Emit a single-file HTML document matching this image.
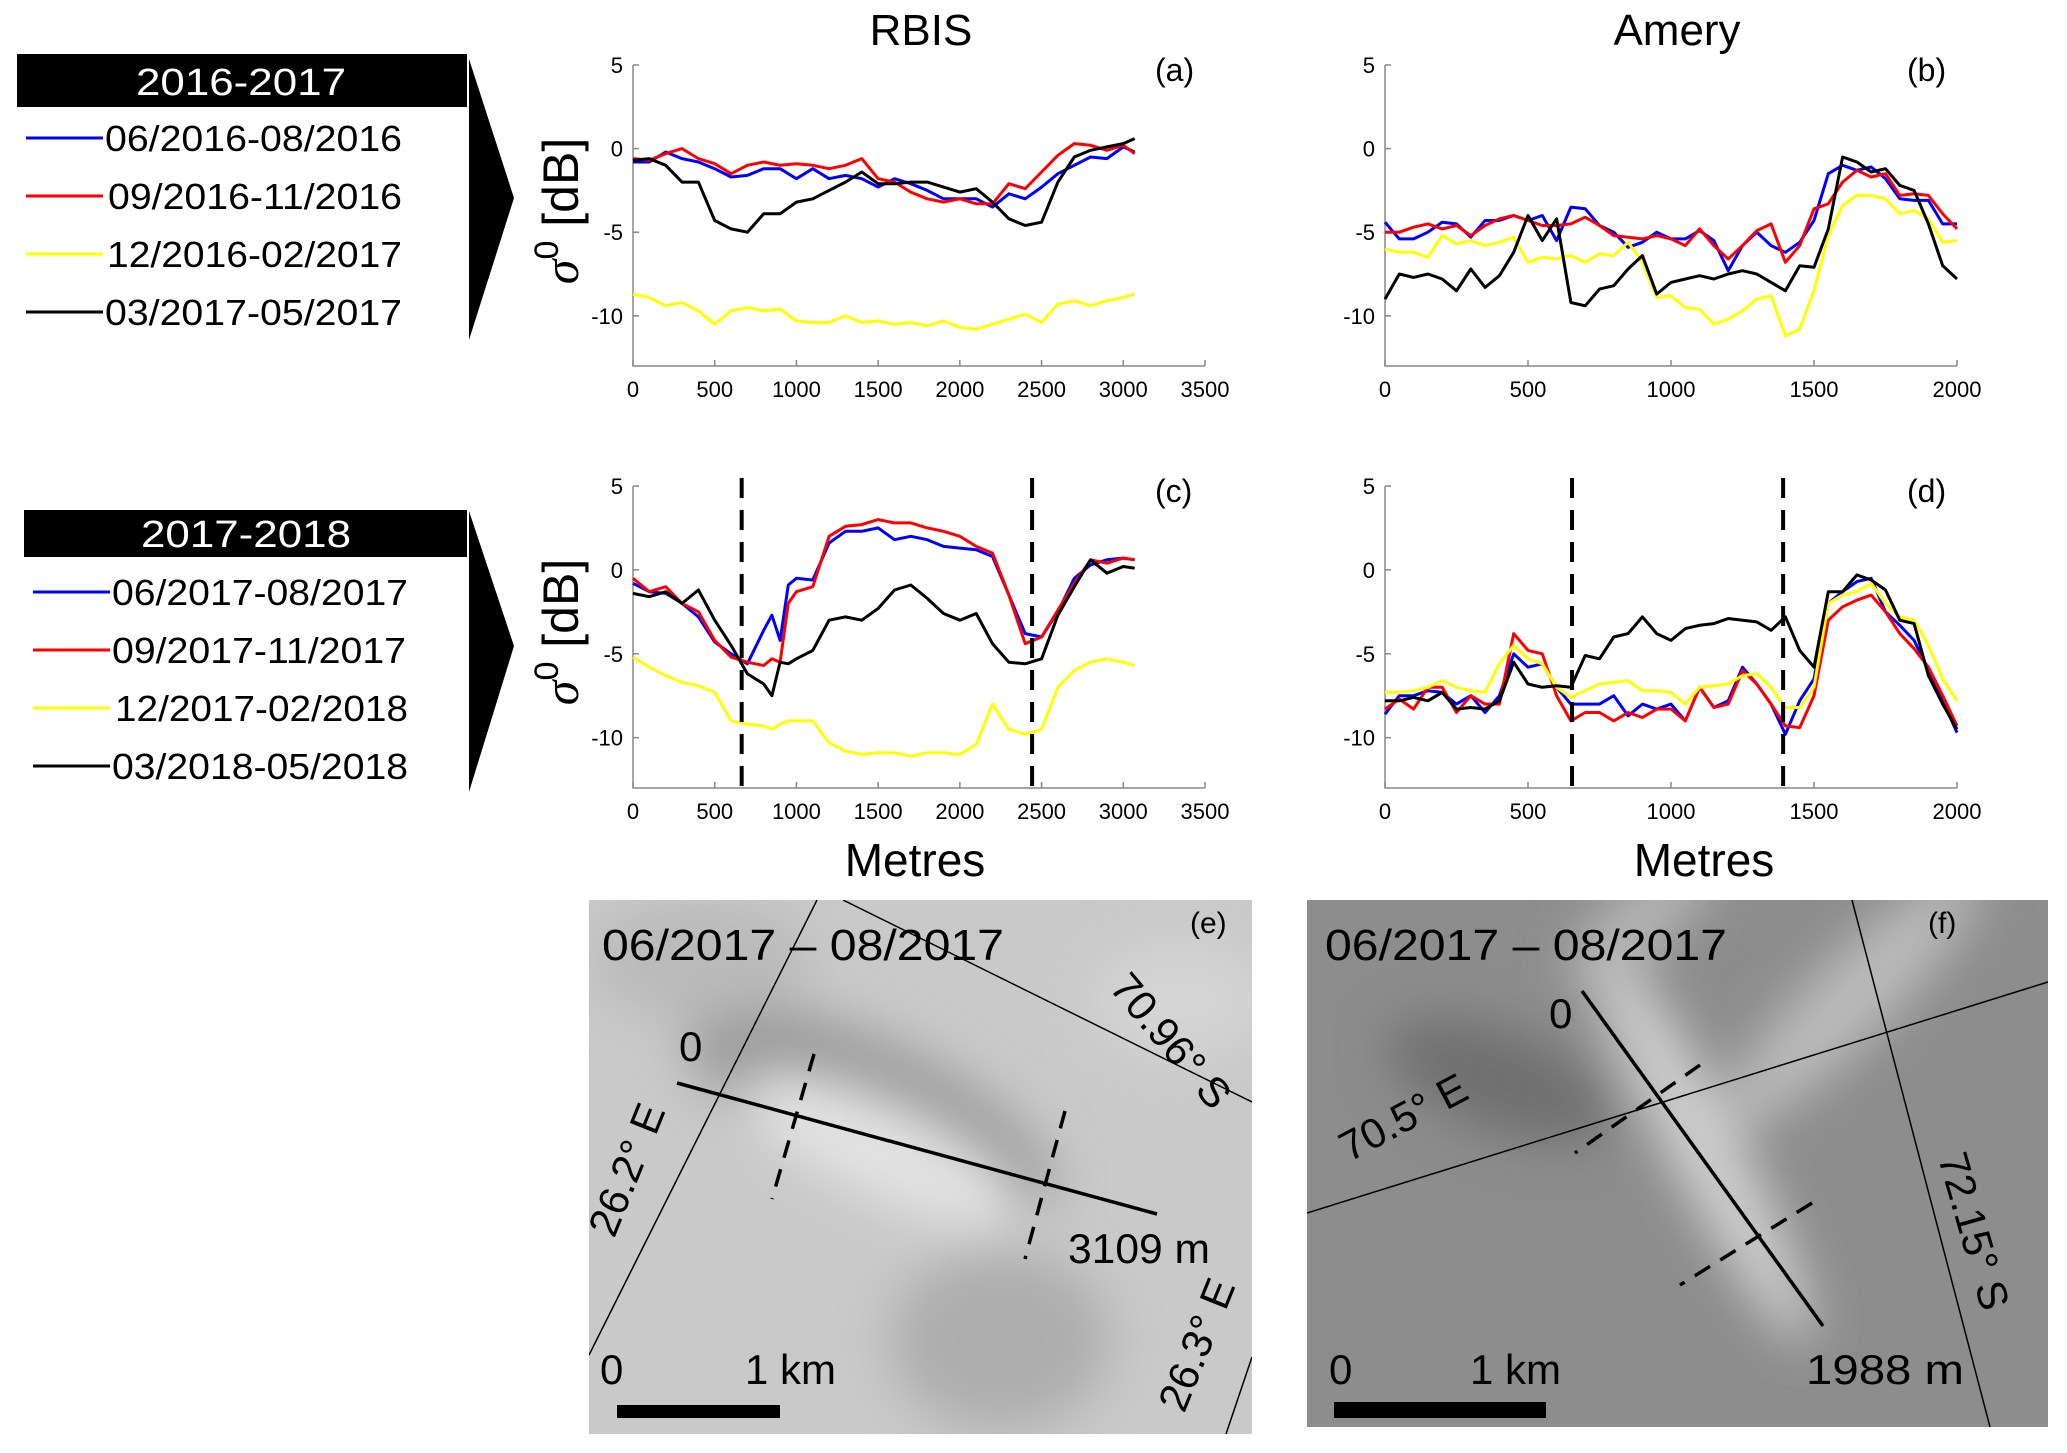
<!DOCTYPE html>
<html><head><meta charset="utf-8">
<style>
html,body{margin:0;padding:0;background:#fff;}
body{width:2067px;height:1448px;overflow:hidden;font-family:"Liberation Sans",Arial,sans-serif;}
svg text{font-family:"Liberation Sans",Arial,sans-serif;}
</style></head>
<body>
<svg id="fig" width="2067" height="1448" viewBox="0 0 2067 1448" xmlns="http://www.w3.org/2000/svg">
<defs>
<filter id="blur" x="-50%" y="-50%" width="200%" height="200%"><feGaussianBlur stdDeviation="25"/></filter>
<clipPath id="clipE"><rect x="589" y="900" width="663" height="534"/></clipPath>
<clipPath id="clipF"><rect x="1307" y="900" width="741" height="527"/></clipPath>
</defs>

<!-- Legends -->
<g>
<rect x="17" y="54" width="450" height="53" fill="#000"/>
<text x="136" y="95" fill="#fff" font-size="38" textLength="210" lengthAdjust="spacingAndGlyphs">2016-2017</text>
<polygon points="469,59 514,198 469,340" fill="#000"/>
<line x1="26" y1="138" x2="103" y2="138" stroke="#00f" stroke-width="3"/>
<text x="105" y="151" font-size="36" textLength="297" lengthAdjust="spacingAndGlyphs">06/2016-08/2016</text>
<line x1="26" y1="196" x2="103" y2="196" stroke="#f00" stroke-width="3"/>
<text x="108" y="209" font-size="36" textLength="294" lengthAdjust="spacingAndGlyphs">09/2016-11/2016</text>
<line x1="26" y1="254" x2="103" y2="254" stroke="#ff0" stroke-width="3"/>
<text x="107" y="267" font-size="36" textLength="295" lengthAdjust="spacingAndGlyphs">12/2016-02/2017</text>
<line x1="26" y1="312" x2="103" y2="312" stroke="#000" stroke-width="3"/>
<text x="105" y="325" font-size="36" textLength="297" lengthAdjust="spacingAndGlyphs">03/2017-05/2017</text>
</g>
<g>
<rect x="24" y="510" width="443" height="47" fill="#000"/>
<text x="141" y="547" fill="#fff" font-size="38" textLength="210" lengthAdjust="spacingAndGlyphs">2017-2018</text>
<polygon points="469,511 514,646 469,792" fill="#000"/>
<line x1="33" y1="592" x2="110" y2="592" stroke="#00f" stroke-width="3"/>
<text x="112" y="605" font-size="36" textLength="296" lengthAdjust="spacingAndGlyphs">06/2017-08/2017</text>
<line x1="33" y1="650" x2="110" y2="650" stroke="#f00" stroke-width="3"/>
<text x="112" y="663" font-size="36" textLength="294" lengthAdjust="spacingAndGlyphs">09/2017-11/2017</text>
<line x1="33" y1="708" x2="110" y2="708" stroke="#ff0" stroke-width="3"/>
<text x="115" y="721" font-size="36" textLength="293" lengthAdjust="spacingAndGlyphs">12/2017-02/2018</text>
<line x1="33" y1="766" x2="110" y2="766" stroke="#000" stroke-width="3"/>
<text x="112" y="779" font-size="36" textLength="296" lengthAdjust="spacingAndGlyphs">03/2018-05/2018</text>
</g>

<text x="921" y="45" font-size="44" text-anchor="middle">RBIS</text>
<text x="1677" y="45" font-size="44" text-anchor="middle">Amery</text>
<text x="915" y="876" font-size="46" text-anchor="middle">Metres</text>
<text x="1704" y="876" font-size="46" text-anchor="middle">Metres</text>
<text transform="translate(578,211) rotate(-90)" font-size="50" text-anchor="middle"><tspan font-style="italic" font-family="Liberation Serif">σ</tspan><tspan dy="-20" font-size="34">0</tspan><tspan dy="20"> [dB]</tspan></text>
<text transform="translate(578,632) rotate(-90)" font-size="50" text-anchor="middle"><tspan font-style="italic" font-family="Liberation Serif">σ</tspan><tspan dy="-20" font-size="34">0</tspan><tspan dy="20"> [dB]</tspan></text>

<g id="charts"></g>

<!-- Image (e) -->
<g clip-path="url(#clipE)">
<rect x="589" y="900" width="663" height="534" fill="#c9c9c9"/>
<g filter="url(#blur)">
<ellipse cx="870" cy="1110" rx="200" ry="70" fill="#9a9a9a" transform="rotate(25 870 1110)"/>
<ellipse cx="880" cy="1150" rx="150" ry="45" fill="#e3e3e3" transform="rotate(25 880 1150)"/>
<ellipse cx="1000" cy="1340" rx="110" ry="90" fill="#adadad"/>
<ellipse cx="700" cy="960" rx="110" ry="60" fill="#bababa"/>
<ellipse cx="1180" cy="1000" rx="90" ry="60" fill="#d4d4d4"/>
</g>
<line x1="817" y1="900" x2="589" y2="1355" stroke="#000" stroke-width="1.5"/>
<line x1="843" y1="900" x2="1252" y2="1102" stroke="#000" stroke-width="1.5"/>
<line x1="1252" y1="1357" x2="1226" y2="1434" stroke="#000" stroke-width="1.5"/>
<line x1="677" y1="1083" x2="1157" y2="1214" stroke="#000" stroke-width="3.5"/>
<line x1="814" y1="1054" x2="772" y2="1199" stroke="#000" stroke-width="3.5" stroke-dasharray="18,12"/>
<line x1="1065" y1="1111" x2="1025" y2="1259" stroke="#000" stroke-width="3.5" stroke-dasharray="18,12"/>
<text x="602" y="960" font-size="44" textLength="402" lengthAdjust="spacingAndGlyphs">06/2017 – 08/2017</text>
<text x="1190" y="933" font-size="30">(e)</text>
<text x="679" y="1061" font-size="42">0</text>
<text x="1068" y="1263" font-size="42" textLength="142" lengthAdjust="spacingAndGlyphs">3109 m</text>
<text x="600" y="1384" font-size="42">0</text>
<text x="745" y="1384" font-size="42">1 km</text>
<rect x="617" y="1405" width="163" height="13" fill="#000"/>
<text transform="translate(640,1175) rotate(-68)" font-size="42" text-anchor="middle">26.2° E</text>
<text transform="translate(1160,1050) rotate(50)" font-size="42" text-anchor="middle">70.96° S</text>
<text transform="translate(1210,1350) rotate(-68)" font-size="42" text-anchor="middle">26.3° E</text>
</g>

<!-- Image (f) -->
<g clip-path="url(#clipF)">
<rect x="1307" y="900" width="741" height="527" fill="#8d8d8d"/>
<g filter="url(#blur)">
<ellipse cx="1700" cy="1140" rx="230" ry="35" fill="#d0d0d0" transform="rotate(62 1700 1140)"/>
<ellipse cx="1850" cy="1000" rx="180" ry="40" fill="#bcbcbc" transform="rotate(-45 1850 1000)"/>
<ellipse cx="1500" cy="1080" rx="120" ry="50" fill="#707070" transform="rotate(20 1500 1080)"/>
<ellipse cx="1640" cy="920" rx="90" ry="30" fill="#b8b8b8" transform="rotate(-40 1640 920)"/>
</g>
<line x1="1307" y1="1213" x2="2048" y2="982" stroke="#000" stroke-width="1.5"/>
<line x1="1852" y1="900" x2="1990" y2="1427" stroke="#000" stroke-width="1.5"/>
<line x1="1582" y1="991" x2="1823" y2="1326" stroke="#000" stroke-width="3.5"/>
<line x1="1700" y1="1065" x2="1575" y2="1153" stroke="#000" stroke-width="3.5" stroke-dasharray="18,12"/>
<line x1="1812" y1="1203" x2="1680" y2="1285" stroke="#000" stroke-width="3.5" stroke-dasharray="18,12"/>
<text x="1325" y="960" font-size="44" textLength="402" lengthAdjust="spacingAndGlyphs">06/2017 – 08/2017</text>
<text x="1928" y="933" font-size="30">(f)</text>
<text x="1549" y="1028" font-size="42">0</text>
<text x="1806" y="1384" font-size="42" textLength="158" lengthAdjust="spacingAndGlyphs">1988 m</text>
<text x="1329" y="1384" font-size="42">0</text>
<text x="1470" y="1384" font-size="42">1 km</text>
<rect x="1334" y="1402" width="212" height="16" fill="#000"/>
<text transform="translate(1410,1130) rotate(-28)" font-size="42" text-anchor="middle">70.5° E</text>
<text transform="translate(1960,1235) rotate(74)" font-size="42" text-anchor="middle">72.15° S</text>
</g>
</svg>

<script>
// ---- Data ----
const colors = ["#0000ff", "#ff0000", "#ffff00", "#000000"];
const yTicks = [5, 0, -5, -10];
const xTicksLeft = [0, 500, 1000, 1500, 2000, 2500, 3000, 3500];
const xTicksRight = [0, 500, 1000, 1500, 2000];

const xsA = [0,100,200,300,400,500,600,700,800,900,1000,1100,1200,1300,1400,1500,1600,1700,1800,1900,2000,2100,2200,2300,2400,2500,2600,2700,2800,2900,3000,3070];
const blueA = [-0.8,-0.8,-0.2,-0.6,-0.8,-1.2,-1.7,-1.6,-1.2,-1.2,-1.8,-1.2,-1.8,-1.6,-1.8,-2.3,-1.8,-2.1,-2.5,-3.0,-3.0,-3.0,-3.5,-2.7,-3.0,-2.3,-1.5,-1.0,-0.5,-0.6,0.1,-0.2];
const redA = [-0.6,-0.7,-0.3,0,-0.6,-0.9,-1.5,-1.0,-0.8,-1.0,-0.9,-1.0,-1.2,-1.0,-0.6,-1.8,-2.0,-2.6,-3.0,-3.2,-3.0,-3.3,-3.3,-2.1,-2.4,-1.4,-0.4,0.3,0.2,-0.1,0.2,-0.3];
const yellowA = [-8.7,-8.9,-9.4,-9.2,-9.7,-10.5,-9.7,-9.5,-9.7,-9.6,-10.3,-10.4,-10.4,-10.0,-10.4,-10.3,-10.5,-10.4,-10.6,-10.3,-10.7,-10.8,-10.5,-10.2,-9.9,-10.4,-9.3,-9.1,-9.4,-9.1,-8.9,-8.7];
const blackA = [-0.7,-0.6,-1.0,-2.0,-2.0,-4.3,-4.8,-5.0,-3.9,-3.9,-3.2,-3.0,-2.5,-2.0,-1.4,-2.1,-2.1,-2.0,-2.0,-2.3,-2.6,-2.4,-3.2,-4.2,-4.6,-4.4,-2.0,-0.5,-0.1,0.1,0.3,0.6];

const xsC = [0,100,200,300,400,500,600,700,800,850,900,950,1000,1100,1200,1300,1400,1500,1600,1700,1800,1900,2000,2100,2200,2300,2400,2500,2600,2700,2800,2900,3000,3070];
const blueC = [-0.8,-1.3,-1.4,-2.0,-2.8,-4.3,-5.0,-5.6,-3.6,-2.7,-4.2,-0.9,-0.5,-0.6,1.6,2.3,2.3,2.5,1.8,2.0,1.8,1.4,1.3,1.2,0.8,-1.5,-3.8,-4.0,-2.5,-0.5,0.3,0.6,0.7,0.6];
const redC = [-0.5,-1.3,-1.0,-2.0,-2.5,-4.2,-5.2,-5.5,-5.7,-5.3,-5.5,-2.0,-1.3,-1.0,2.0,2.6,2.7,3.0,2.8,2.8,2.5,2.3,2.0,1.4,1.0,-1.5,-4.4,-4.0,-2.4,-0.8,0.6,0.4,0.7,0.6];
const yellowC = [-5.2,-5.8,-6.3,-6.7,-6.9,-7.3,-9.0,-9.2,-9.3,-9.5,-9.2,-9.0,-9.0,-9.0,-10.3,-10.8,-11.0,-10.9,-10.9,-11.1,-10.9,-10.9,-11.0,-10.4,-8.0,-9.5,-9.8,-9.5,-7.0,-6.0,-5.5,-5.3,-5.5,-5.7];
const blackC = [-1.4,-1.6,-1.3,-2.0,-1.2,-3.0,-4.5,-6.2,-6.8,-7.5,-5.5,-5.6,-5.3,-4.8,-3.0,-2.8,-3.0,-2.3,-1.2,-0.9,-1.7,-2.6,-3.0,-2.6,-4.4,-5.5,-5.6,-5.3,-2.7,-1.0,0.6,-0.2,0.2,0.1];

const xsR = [0,50,100,150,200,250,300,350,400,450,500,550,600,650,700,750,800,850,900,950,1000,1050,1100,1150,1200,1250,1300,1350,1400,1450,1500,1550,1600,1650,1700,1750,1800,1850,1900,1950,2000];
const blueB = [-4.4,-5.4,-5.4,-5.0,-4.4,-4.5,-5.3,-4.3,-4.3,-4.0,-4.3,-4.0,-5.5,-3.5,-3.6,-4.6,-5.0,-5.9,-5.6,-5.0,-5.4,-5.4,-4.9,-5.5,-7.3,-5.8,-5.0,-5.8,-6.2,-5.6,-4.3,-1.5,-1.0,-1.3,-1.1,-1.8,-3.0,-3.1,-3.1,-4.5,-4.5];
const redB = [-5.0,-5.0,-4.7,-4.5,-4.8,-4.6,-5.2,-4.6,-4.2,-4.0,-4.3,-4.6,-4.6,-4.5,-4.1,-4.6,-5.2,-5.3,-5.4,-5.2,-5.4,-5.8,-4.8,-5.8,-6.6,-5.8,-4.9,-4.5,-6.8,-5.8,-3.6,-3.3,-2.0,-1.3,-1.7,-1.5,-2.8,-2.7,-2.8,-3.9,-4.8];
const yellowB = [-6.0,-6.2,-6.2,-6.5,-5.2,-5.7,-5.5,-5.8,-5.6,-5.3,-6.8,-6.5,-6.6,-6.4,-6.8,-6.3,-6.4,-5.6,-6.8,-8.9,-8.8,-9.5,-9.6,-10.5,-10.2,-9.7,-9.0,-8.8,-11.2,-10.8,-8.5,-5.2,-3.4,-2.8,-2.8,-3.0,-3.9,-3.7,-4.2,-5.6,-5.5];
const blackB = [-9.0,-7.5,-7.7,-7.5,-7.8,-8.5,-7.2,-8.3,-7.6,-6.2,-4.0,-5.5,-4.2,-9.2,-9.4,-8.4,-8.2,-7.2,-6.4,-8.7,-8.0,-7.8,-7.6,-7.8,-7.5,-7.3,-7.5,-8.0,-8.5,-7.0,-7.1,-4.8,-0.5,-0.8,-1.4,-1.2,-2.2,-2.5,-4.5,-7.0,-7.8];

const blueD = [-8.6,-7.5,-7.5,-7.2,-7.3,-8.0,-7.5,-8.5,-7.5,-5.0,-5.8,-5.6,-7.0,-8.0,-8.0,-8.0,-7.5,-8.7,-8.0,-8.3,-8.0,-9.0,-7.0,-8.2,-7.8,-5.8,-6.8,-8.0,-9.8,-7.8,-6.5,-2.0,-1.3,-0.7,-0.5,-2.5,-3.3,-4.2,-6.0,-7.8,-9.7];
const redD = [-8.3,-7.7,-8.3,-7.0,-7.0,-8.5,-7.5,-8.0,-8.0,-3.8,-4.8,-5.0,-7.5,-9.0,-8.5,-8.5,-9.0,-8.5,-8.8,-8.3,-8.3,-9.0,-7.0,-8.2,-8.0,-6.0,-6.8,-8.0,-9.3,-9.4,-7.5,-3.0,-2.2,-1.8,-1.5,-2.5,-3.8,-4.7,-5.8,-7.5,-9.3];
const yellowD = [-7.3,-7.3,-7.2,-7.0,-6.6,-7.0,-7.2,-7.3,-5.6,-4.5,-5.3,-5.6,-7.0,-7.6,-7.2,-6.8,-6.7,-6.6,-7.2,-7.2,-7.3,-8.0,-7.0,-6.9,-6.8,-6.3,-6.2,-7.0,-8.2,-8.2,-7.0,-2.0,-1.5,-1.3,-0.8,-2.0,-2.8,-3.0,-4.5,-6.5,-7.8];
const blackD = [-7.8,-7.8,-7.6,-7.8,-7.3,-8.3,-8.2,-8.3,-7.8,-5.5,-6.8,-7.0,-6.9,-7.0,-5.1,-5.3,-4.0,-3.8,-2.8,-3.8,-4.2,-3.5,-3.3,-3.2,-2.9,-3.0,-3.1,-3.6,-2.8,-4.8,-5.8,-1.3,-1.3,-0.3,-0.6,-1.2,-3.0,-3.2,-6.3,-8.0,-9.5];

const dashesC = [665, 2442];
const dashesD = [654, 1392];

// ---- Drawing ----
const NS = "http://www.w3.org/2000/svg";
const root = document.getElementById("charts");
function mk(tag, attrs, parent) {
  const e = document.createElementNS(NS, tag);
  for (const k in attrs) e.setAttribute(k, attrs[k]);
  (parent || root).appendChild(e);
  return e;
}

function panel(cfg) {
  const g = mk("g", {});
  
  
  const sx = v => cfg.x0 + v / cfg.xmax * (cfg.x1 - cfg.x0);
  const sy = v => cfg.yTop + (5 - v) / 18 * (cfg.yBot - cfg.yTop);
  const ax = mk("path", { d: `M${cfg.x0},${cfg.yTop} L${cfg.x0},${cfg.yBot} L${cfg.x1},${cfg.yBot}`, fill: "none", stroke: "#888", "stroke-width": 1.5 }, g);
  
  
  cfg.xticks.forEach(t => {
    mk("line", { x1: sx(t), y1: cfg.yBot, x2: sx(t), y2: cfg.yBot - 6, stroke: "#888", "stroke-width": 1.5 }, g);
    const tl = mk("text", { x: sx(t), y: cfg.yBot + 31, "font-size": 22, "text-anchor": "middle" }, g);
    tl.textContent = t;
    
    
  });
  yTicks.forEach(t => {
    mk("line", { x1: cfg.x0, y1: sy(t), x2: cfg.x0 + 6, y2: sy(t), stroke: "#888", "stroke-width": 1.5 }, g);
    const tl = mk("text", { x: cfg.x0 - 10, y: sy(t) + 8, "font-size": 22, "text-anchor": "end" }, g);
    tl.textContent = t;
    
    
  });
  cfg.series.forEach((s, i) => {
    const d = cfg.xs.map((x, j) => (j ? "L" : "M") + sx(x).toFixed(1) + "," + sy(s[j]).toFixed(1)).join(" ");
    const p = mk("path", { d: d, fill: "none", stroke: colors[i], "stroke-width": 3, "stroke-linejoin": "round" }, g);
    
    
  });
  (cfg.dashes || []).forEach(v => {
    const l = mk("line", { x1: sx(v), y1: cfg.yTop - 8, x2: sx(v), y2: cfg.yBot + 10, stroke: "#000", "stroke-width": 4, "stroke-dasharray": "20,12" }, g);
    
    
  });
  const lab = mk("text", { x: cfg.x1 - 50, y: cfg.yTop + 16, "font-size": 32 }, g);
  lab.textContent = cfg.label;
  
  
}

panel({ name: "chart-a", x0: 633, x1: 1205, xmax: 3500, yTop: 65, yBot: 366, xticks: xTicksLeft, xs: xsA, series: [blueA, redA, yellowA, blackA], label: "(a)" });
panel({ name: "chart-b", x0: 1385, x1: 1957, xmax: 2000, yTop: 65, yBot: 366, xticks: xTicksRight, xs: xsR, series: [blueB, redB, yellowB, blackB], label: "(b)" });
panel({ name: "chart-c", x0: 633, x1: 1205, xmax: 3500, yTop: 486, yBot: 788, xticks: xTicksLeft, xs: xsC, series: [blueC, redC, yellowC, blackC], label: "(c)", dashes: dashesC });
panel({ name: "chart-d", x0: 1385, x1: 1957, xmax: 2000, yTop: 486, yBot: 788, xticks: xTicksRight, xs: xsR, series: [blueD, redD, yellowD, blackD], label: "(d)", dashes: dashesD });
</script>
</body></html>
